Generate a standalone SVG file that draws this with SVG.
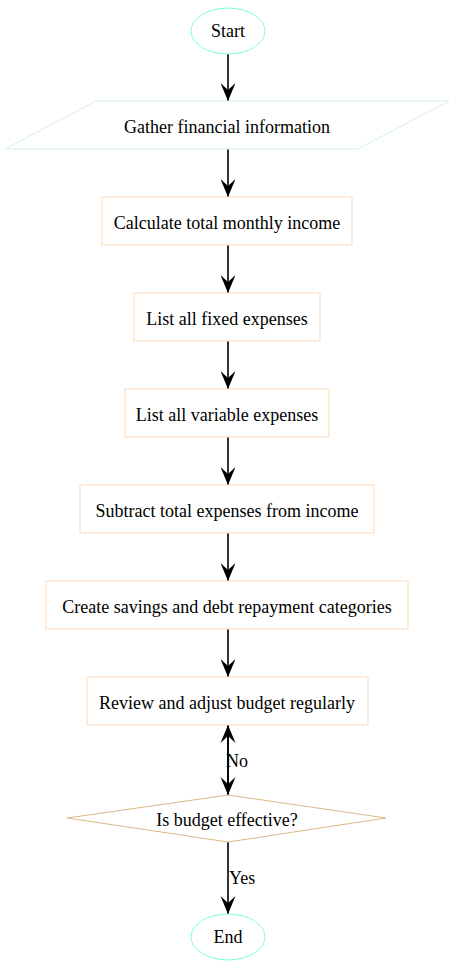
<svg xmlns="http://www.w3.org/2000/svg" width="454" height="965" viewBox="0 0 454 965">
<defs>
<style>
text{font-family:"Liberation Serif","Times New Roman",serif;font-size:18px;fill:#000;text-anchor:middle;dominant-baseline:central}
text.lbl{text-anchor:start}
.term{fill:#fff;stroke:#7fffd4;stroke-width:1}
.io{fill:#fff;stroke:#d6eeee;stroke-width:1}
.proc{fill:#fff;stroke:#ffdab9;stroke-width:1}
.dec{fill:#fff;stroke:#deb887;stroke-width:1}
.edge{stroke:#000;stroke-width:1.6;fill:none}
</style>
<marker id="vee" viewBox="0 0 18 16" refX="18" refY="8" markerWidth="18" markerHeight="16" markerUnits="userSpaceOnUse" orient="auto-start-reverse">
<path d="M18,8 L0,0.5 L7,8 L0,15.5 Z" fill="#000"/>
</marker>
</defs>
<rect width="454" height="965" fill="#fff"/>
<g id="connectors">
<line class="edge" x1="228" y1="54" x2="228" y2="101" marker-end="url(#vee)"/>
<line class="edge" x1="228" y1="149" x2="228" y2="197" marker-end="url(#vee)"/>
<line class="edge" x1="228" y1="245" x2="228" y2="293" marker-end="url(#vee)"/>
<line class="edge" x1="228" y1="341" x2="228" y2="389" marker-end="url(#vee)"/>
<line class="edge" x1="228" y1="437" x2="228" y2="485" marker-end="url(#vee)"/>
<line class="edge" x1="228" y1="533" x2="228" y2="581" marker-end="url(#vee)"/>
<line class="edge" x1="228" y1="629" x2="228" y2="677" marker-end="url(#vee)"/>
<line class="edge" x1="228" y1="725" x2="228" y2="795" marker-end="url(#vee)"/>
<line class="edge" x1="228" y1="795" x2="228" y2="725" marker-end="url(#vee)"/>
<text class="lbl" x="226" y="761">No</text>
<line class="edge" x1="228" y1="842" x2="228" y2="914" marker-end="url(#vee)"/>
<text class="lbl" x="229" y="878">Yes</text>
</g>
<g id="start">
<ellipse class="term" cx="228" cy="31" rx="37" ry="23"/>
<text x="228" y="31">Start</text>
</g>
<g id="gather">
<polygon class="io" points="96,101 449,101 358,149 5,149"/>
<text x="227" y="127">Gather financial information</text>
</g>
<g id="income">
<rect class="proc" x="102" y="197" width="250" height="48"/>
<text x="227" y="223">Calculate total monthly income</text>
</g>
<g id="fixed">
<rect class="proc" x="134" y="293" width="186" height="48"/>
<text x="227" y="319">List all fixed expenses</text>
</g>
<g id="variable">
<rect class="proc" x="125" y="389" width="204" height="48"/>
<text x="227" y="415">List all variable expenses</text>
</g>
<g id="subtract">
<rect class="proc" x="80" y="485" width="294" height="48"/>
<text x="227" y="511">Subtract total expenses from income</text>
</g>
<g id="savings">
<rect class="proc" x="46" y="581" width="362" height="48"/>
<text x="227" y="607">Create savings and debt repayment categories</text>
</g>
<g id="review">
<rect class="proc" x="87" y="677" width="281" height="48"/>
<text x="227" y="703">Review and adjust budget regularly</text>
</g>
<g id="decision">
<polygon class="dec" points="228,795 386,818 228,842 67,818"/>
<text x="227" y="820">Is budget effective?</text>
</g>
<g id="end">
<ellipse class="term" cx="228" cy="937" rx="37" ry="23"/>
<text x="228" y="937">End</text>
</g>
</svg>
